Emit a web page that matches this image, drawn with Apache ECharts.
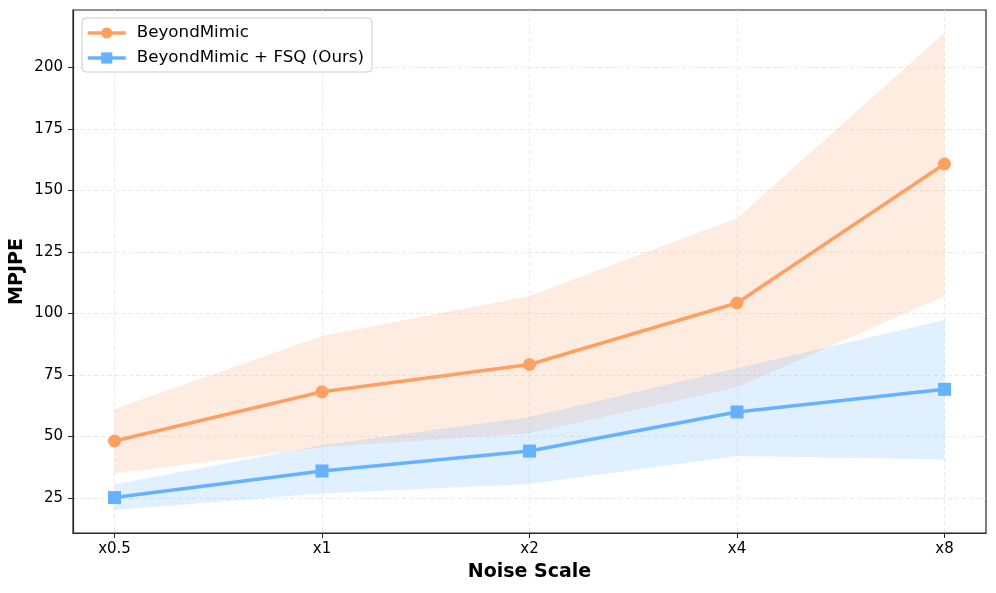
<!DOCTYPE html>
<html><head><meta charset="utf-8">
<script src="https://cdn.jsdelivr.net/npm/echarts@6/dist/echarts.min.js"></script>
<style>html,body{margin:0;padding:0;background:#fff}#c{width:996px;height:593px}</style>
</head><body><div id="c"></div>
<script>
var labels = ['x0.5','x1','x2','x4','x8'];
var orangeMean = [48.2, 68.2, 79.3, 104.3, 160.8];
var orangeLow  = [35.0, 45.7, 51.3, 70.0, 107.1];
var orangeHigh = [61.2, 90.9, 107.1, 138.7, 214.2];
var blueMean = [25.2, 36.0, 44.1, 60.0, 69.2];
var blueLow  = [20.1, 26.9, 30.7, 42.1, 40.7];
var blueHigh = [30.5, 46.5, 58.0, 77.8, 97.4];
var yTicks = [25, 50, 75, 100, 125, 150, 175, 200];

var ORANGE = '#FFA062', BLUE = '#66B2FF';
var FONT = 'DejaVu Sans';
function pts(arr){ return arr.map(function(v,i){ return [i, v]; }); }

function band(name, lo, hi, color){
  return {
    name: name, type:'custom', silent:true, z:1, clip:true,
    data: lo.map(function(v,i){ return [i, v, hi[i]]; }),
    renderItem: function(params, api){
      if (params.dataIndex !== 0) return null;
      var p = [], i;
      for (i = 0; i < hi.length; i++) p.push(api.coord([i, hi[i]]));
      for (i = lo.length - 1; i >= 0; i--) p.push(api.coord([i, lo[i]]));
      return {type:'polygon', shape:{points:p}, style:{fill:color, opacity:0.2}};
    }
  };
}

var chart = echarts.init(document.getElementById('c'), null, {renderer:'canvas'});
var option = {
  animation:false,
  backgroundColor:'#fff',
  textStyle:{fontFamily:FONT},
  grid:{left:73, right:10, top:10, bottom:60, outerBoundsMode:'none', containLabel:false,
        show:true, borderColor:'#262626', borderWidth:1.2, backgroundColor:'transparent'},
  legend:{
    data:['BeyondMimic','BeyondMimic + FSQ (Ours)'],
    orient:'vertical', left:82, top:18,
    backgroundColor:'rgba(255,255,255,0.85)', borderColor:'#cccccc', borderWidth:1, borderRadius:4,
    padding:[5,8,4,4], itemGap:5, itemWidth:38, itemHeight:14,
    lineStyle:{width:3.5},
    textStyle:{fontFamily:FONT, fontSize:16.7, color:'#000', lineHeight:20, padding:[0,0,0,6]}
  },
  xAxis:{
    type:'value', min:-0.2, max:4.2,
    name:'Noise Scale', nameLocation:'middle', nameGap:30, nameMoveOverlap:false,
    nameTextStyle:{fontFamily:FONT, fontSize:19, fontWeight:'bold', color:'#000'},
    axisLine:{show:true, onZero:false, lineStyle:{color:'#262626', width:1.2}},
    axisTick:{show:true, length:5, customValues:[0,1,2,3,4], lineStyle:{color:'#262626', width:1}},
    axisLabel:{customValues:[0,1,2,3,4], fontFamily:FONT, fontSize:15, color:'#000', margin:9,
      formatter:function(v){ return labels[Math.round(v)]; }},
    splitLine:{show:true, lineStyle:{color:'#e3e3e3', type:[4,3], width:0.8}}
  },
  yAxis:{
    type:'value', min:10.8, max:223.4,
    name:'MPJPE', nameLocation:'middle', nameGap:46, nameRotate:90, nameMoveOverlap:false,
    nameTextStyle:{fontFamily:FONT, fontSize:19, fontWeight:'bold', color:'#000'},
    axisLine:{show:true, onZero:false, lineStyle:{color:'#262626', width:1.2}},
    axisTick:{show:true, length:5, customValues:yTicks, lineStyle:{color:'#262626', width:1}},
    axisLabel:{customValues:yTicks, fontFamily:FONT, fontSize:15, color:'#000', margin:10},
    splitLine:{show:true, lineStyle:{color:'#e3e3e3', type:[4,3], width:0.8}}
  },
  series: [
    band('orangeBand', orangeLow, orangeHigh, ORANGE),
    band('blueBand', blueLow, blueHigh, BLUE),
    {name:'BeyondMimic', type:'line', data:pts(orangeMean), symbol:'circle', symbolSize:13,
     itemStyle:{color:ORANGE}, lineStyle:{color:ORANGE, width:3.5}, z:5},
    {name:'BeyondMimic + FSQ (Ours)', type:'line', data:pts(blueMean), symbol:'rect', symbolSize:13,
     itemStyle:{color:BLUE}, lineStyle:{color:BLUE, width:3.5}, z:5}
  ]
};
chart.setOption(option);
</script>
</body></html>
